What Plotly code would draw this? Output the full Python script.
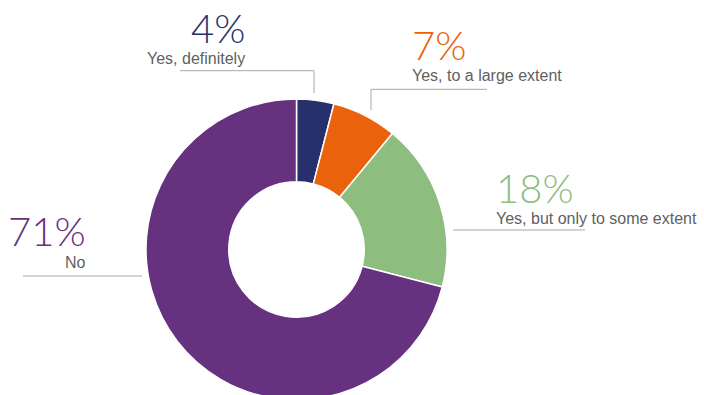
import plotly.graph_objects as go

# Survey answers and their shares (%)
labels = ["Yes, definitely", "Yes, to a large extent", "Yes, but only to some extent", "No"]
values = [4, 7, 18, 71]
colors = ["#26306a", "#ea620b", "#8ebd80", "#66317f"]

W, H = 704, 401
cx, cy, r = 296.5, 249.5, 150.5


def px(x):
    return x / W


def py(y):
    return 1 - y / H


fig = go.Figure(
    go.Pie(
        labels=labels,
        values=values,
        marker=dict(colors=colors, line=dict(color="white", width=1.5)),
        hole=0.45,
        sort=False,
        direction="clockwise",
        rotation=0,
        textinfo="none",
        hoverinfo="label+percent",
        showlegend=False,
        domain=dict(x=[px(cx - r), px(cx + r)], y=[py(cy + r), py(cy - r)]),
    )
)

# label placement: (anchor x, percent baseline, label baseline, x anchor)
placement = [
    (247, 43, 62.7, "right"),
    (409.5, 60.7, 80, "left"),
    (494, 203.3, 223.3, "left"),
    (88, 246.7, 266.7, "right"),
]

big, small = 40, 16
annotations = []
for lab, val, col, (ax, pb, lb, anc) in zip(labels, values, colors, placement):
    annotations.append(dict(
        x=px(ax), y=py(pb - 0.38 * big), xref="paper", yref="paper",
        xanchor=anc, yanchor="middle", showarrow=False, text=f"{val}%",
        font=dict(family="Lato", size=big, color=col, weight=300),
    ))
    annotations.append(dict(
        x=px(ax), y=py(lb - 0.28 * small), xref="paper", yref="paper",
        xanchor=anc, yanchor="middle", showarrow=False, text=lab,
        font=dict(family="Liberation Sans, Arial", size=small, color="#5f5f5f"),
    ))

# leader lines
leaders = [
    [(180, 70.7), (314, 70.7), (314, 93)],
    [(487, 89.3), (371, 89.3), (371, 110)],
    [(453, 230), (585, 230)],
    [(23, 276), (142, 276)],
]
shapes = []
for pts in leaders:
    path = "M " + " L ".join(f"{px(x)},{py(y)}" for x, y in pts)
    shapes.append(dict(type="path", path=path, xref="paper", yref="paper",
                       line=dict(color="#a8a8a8", width=1)))

fig.update_layout(
    width=W, height=H,
    margin=dict(l=0, r=0, t=0, b=0),
    paper_bgcolor="white", plot_bgcolor="white",
    annotations=annotations, shapes=shapes,
)

fig.write_html(
    "out.html",
    post_script="document.documentElement.style.overflow='hidden';document.body.style.overflow='hidden';",
)
